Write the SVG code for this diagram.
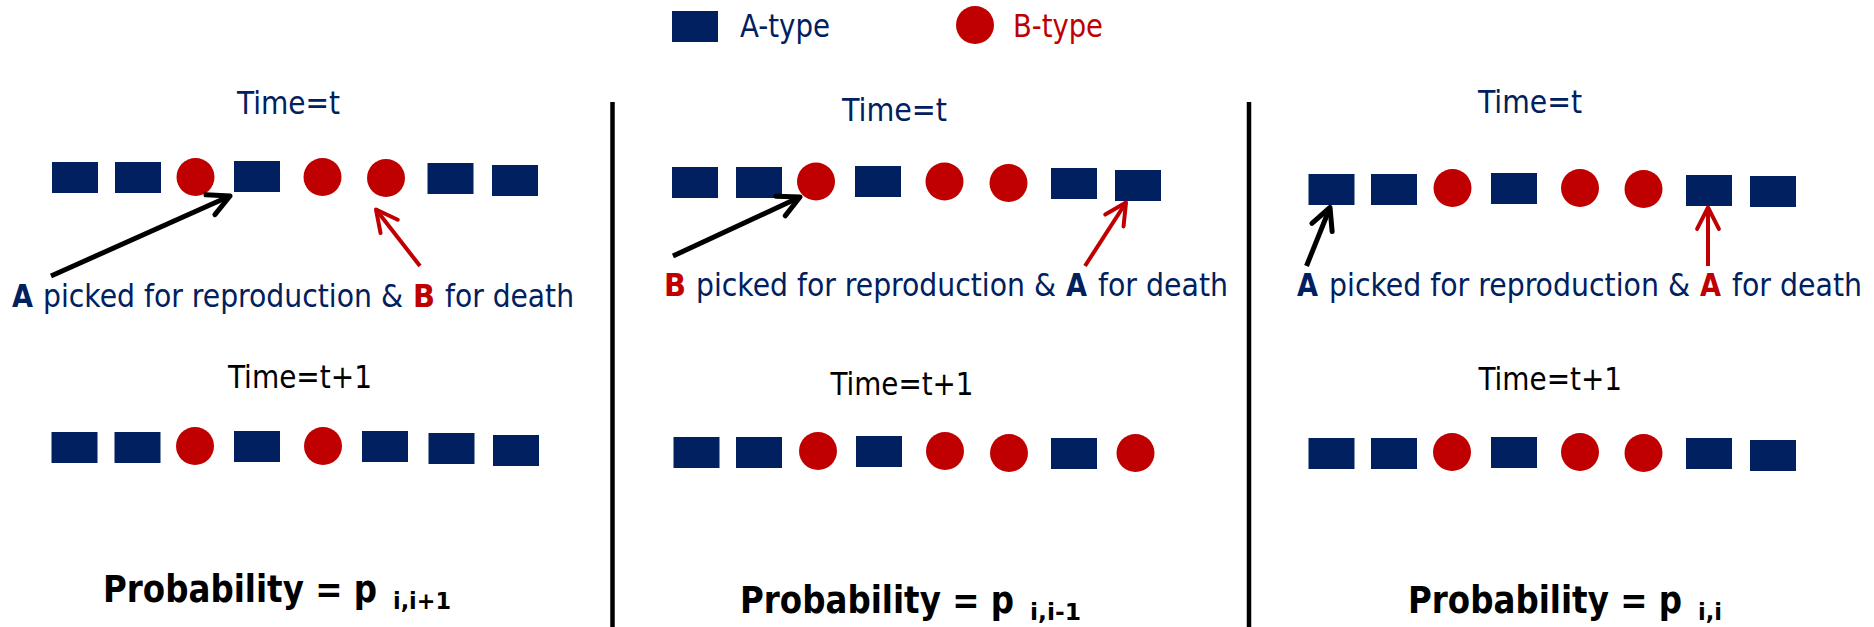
<svg xmlns="http://www.w3.org/2000/svg" width="1874" height="627" viewBox="0 0 1874 627">
<defs>
<style>
text{font-family:"DejaVu Sans Condensed","DejaVu Sans",Verdana,sans-serif;font-size:32px}
.nv{fill:#002060}
.rd{fill:#C00000}
.bk{fill:#000000}
.b{font-weight:bold}
.sq{fill:#002060}
.ci{fill:#C00000}
.prob{font-size:37px;font-weight:bold;fill:#000}
.sub{font-size:23px;font-weight:bold;fill:#000}
.div{stroke:#000;stroke-width:4.5}
.ab{stroke:#000;stroke-width:5;fill:none;marker-end:url(#hb)}
.ar{stroke:#C00000;stroke-width:4;fill:none;marker-end:url(#hr)}
</style>
<marker id="hb" markerUnits="userSpaceOnUse" viewBox="-28 -16 32 32" refX="0" refY="0" markerWidth="32" markerHeight="32" orient="auto">
<path d="M-21.4,-10.9 L0,0 L-21.4,10.9" fill="none" stroke="#000" stroke-width="5" stroke-linejoin="round" stroke-linecap="round"/>
</marker>
<marker id="hr" markerUnits="userSpaceOnUse" viewBox="-28 -16 32 32" refX="0" refY="0" markerWidth="32" markerHeight="32" orient="auto">
<path d="M-21.4,-10.9 L0,0 L-21.4,10.9" fill="none" stroke="#C00000" stroke-width="4" stroke-linejoin="round" stroke-linecap="round"/>
</marker>
</defs>
<rect width="1874" height="627" fill="#fff"/>

<g id="legend">
<rect class="sq" x="672" y="11" width="46" height="31"/>
<text class="nv" x="740" y="37" textLength="90" lengthAdjust="spacingAndGlyphs">A-type</text>
<circle class="ci" cx="975" cy="25" r="19"/>
<text class="rd" x="1013" y="37" textLength="90" lengthAdjust="spacingAndGlyphs">B-type</text>
</g>

<g id="dividers">
<line class="div" x1="612.5" y1="102" x2="612.5" y2="627"/>
<line class="div" x1="1249" y1="102" x2="1249" y2="627"/>
</g>

<!-- Panel 1 -->
<g id="p1-time-t"><text class="nv" x="237" y="114" textLength="103" lengthAdjust="spacingAndGlyphs">Time=t</text></g>
<g id="p1-row-t">
<rect class="sq" x="52" y="162" width="46" height="31"/>
<rect class="sq" x="115" y="162" width="46" height="31"/>
<circle class="ci" cx="195.5" cy="177" r="19"/>
<rect class="sq" x="234" y="161" width="46" height="31"/>
<circle class="ci" cx="322.5" cy="177" r="19"/>
<circle class="ci" cx="386" cy="178" r="19"/>
<rect class="sq" x="427.5" y="163" width="46" height="31"/>
<rect class="sq" x="492" y="165" width="46" height="31"/>
</g>
<g id="p1-label">
<text class="nv b" x="12" y="307" textLength="21" lengthAdjust="spacingAndGlyphs">A</text>
<text class="nv" x="43" y="307" textLength="360" lengthAdjust="spacingAndGlyphs">picked for reproduction &amp;</text>
<text class="rd b" x="413" y="307" textLength="22" lengthAdjust="spacingAndGlyphs">B</text>
<text class="nv" x="445" y="307" textLength="129" lengthAdjust="spacingAndGlyphs">for death</text>
</g>
<g id="p1-time-t1"><text class="bk" x="228" y="388" textLength="144" lengthAdjust="spacingAndGlyphs">Time=t+1</text></g>
<g id="p1-row-t1">
<rect class="sq" x="51.5" y="432" width="46" height="31"/>
<rect class="sq" x="114.5" y="432" width="46" height="31"/>
<circle class="ci" cx="195" cy="446" r="19"/>
<rect class="sq" x="234" y="431" width="46" height="31"/>
<circle class="ci" cx="323" cy="446" r="19"/>
<rect class="sq" x="362" y="431" width="46" height="31"/>
<rect class="sq" x="428.5" y="433" width="46" height="31"/>
<rect class="sq" x="493" y="435" width="46" height="31"/>
</g>
<g id="p1-prob">
<text class="prob" x="103" y="602" textLength="274" lengthAdjust="spacingAndGlyphs">Probability = p</text>
<text class="sub" x="393" y="609" textLength="58" lengthAdjust="spacingAndGlyphs">i,i+1</text>
</g>

<!-- Panel 2 -->
<g id="p2-time-t"><text class="nv" x="842" y="120.5" textLength="105" lengthAdjust="spacingAndGlyphs">Time=t</text></g>
<g id="p2-row-t">
<rect class="sq" x="672" y="167" width="46" height="31"/>
<rect class="sq" x="736" y="167" width="46" height="31"/>
<circle class="ci" cx="816" cy="181.5" r="19"/>
<rect class="sq" x="855" y="166" width="46" height="31"/>
<circle class="ci" cx="944.5" cy="181.5" r="19"/>
<circle class="ci" cx="1008.5" cy="183" r="19"/>
<rect class="sq" x="1051" y="168" width="46" height="31"/>
<rect class="sq" x="1115" y="170" width="46" height="31"/>
</g>
<g id="p2-label">
<text class="rd b" x="664" y="295.5" textLength="22" lengthAdjust="spacingAndGlyphs">B</text>
<text class="nv" x="696" y="295.5" textLength="360" lengthAdjust="spacingAndGlyphs">picked for reproduction &amp;</text>
<text class="nv b" x="1066" y="295.5" textLength="21" lengthAdjust="spacingAndGlyphs">A</text>
<text class="nv" x="1098" y="295.5" textLength="130" lengthAdjust="spacingAndGlyphs">for death</text>
</g>
<g id="p2-time-t1"><text class="bk" x="830.5" y="395" textLength="143" lengthAdjust="spacingAndGlyphs">Time=t+1</text></g>
<g id="p2-row-t1">
<rect class="sq" x="673.5" y="437" width="46" height="31"/>
<rect class="sq" x="736" y="437" width="46" height="31"/>
<circle class="ci" cx="818" cy="451" r="19"/>
<rect class="sq" x="856" y="436" width="46" height="31"/>
<circle class="ci" cx="945" cy="451" r="19"/>
<circle class="ci" cx="1009" cy="453" r="19"/>
<rect class="sq" x="1051" y="438" width="46" height="31"/>
<circle class="ci" cx="1135.5" cy="453" r="19"/>
</g>
<g id="p2-prob">
<text class="prob" x="740" y="613" textLength="274" lengthAdjust="spacingAndGlyphs">Probability = p</text>
<text class="sub" x="1030" y="620" textLength="51" lengthAdjust="spacingAndGlyphs">i,i-1</text>
</g>

<!-- Panel 3 -->
<g id="p3-time-t"><text class="nv" x="1478" y="113" textLength="104" lengthAdjust="spacingAndGlyphs">Time=t</text></g>
<g id="p3-row-t">
<rect class="sq" x="1308.5" y="174" width="46" height="31"/>
<rect class="sq" x="1371" y="174" width="46" height="31"/>
<circle class="ci" cx="1452.5" cy="188" r="19"/>
<rect class="sq" x="1491" y="173" width="46" height="31"/>
<circle class="ci" cx="1580" cy="188" r="19"/>
<circle class="ci" cx="1643.5" cy="189" r="19"/>
<rect class="sq" x="1686" y="175" width="46" height="31"/>
<rect class="sq" x="1750" y="176" width="46" height="31"/>
</g>
<g id="p3-label">
<text class="nv b" x="1297" y="296" textLength="21" lengthAdjust="spacingAndGlyphs">A</text>
<text class="nv" x="1329" y="296" textLength="361" lengthAdjust="spacingAndGlyphs">picked for reproduction &amp;</text>
<text class="rd b" x="1700" y="296" textLength="21" lengthAdjust="spacingAndGlyphs">A</text>
<text class="nv" x="1732" y="296" textLength="130" lengthAdjust="spacingAndGlyphs">for death</text>
</g>
<g id="p3-time-t1"><text class="bk" x="1478.5" y="390" textLength="143.5" lengthAdjust="spacingAndGlyphs">Time=t+1</text></g>
<g id="p3-row-t1">
<rect class="sq" x="1308.5" y="438" width="46" height="31"/>
<rect class="sq" x="1371" y="438" width="46" height="31"/>
<circle class="ci" cx="1452" cy="452" r="19"/>
<rect class="sq" x="1491" y="437" width="46" height="31"/>
<circle class="ci" cx="1580" cy="452" r="19"/>
<circle class="ci" cx="1643.5" cy="453" r="19"/>
<rect class="sq" x="1686" y="438" width="46" height="31"/>
<rect class="sq" x="1750" y="440" width="46" height="31"/>
</g>
<g id="p3-prob">
<text class="prob" x="1408" y="613" textLength="274" lengthAdjust="spacingAndGlyphs">Probability = p</text>
<text class="sub" x="1698" y="620" textLength="24" lengthAdjust="spacingAndGlyphs">i,i</text>
</g>

<g id="connectors">
<line class="ab" x1="51" y1="276" x2="230" y2="196"/>
<line class="ar" x1="420" y1="266" x2="376" y2="209.5"/>
<line class="ab" x1="673" y1="256" x2="800" y2="197"/>
<line class="ar" x1="1085" y1="266" x2="1126" y2="202.5"/>
<line class="ab" x1="1306.5" y1="266" x2="1330" y2="207.5"/>
<line class="ar" x1="1708" y1="266" x2="1708" y2="207.5"/>
</g>
</svg>
